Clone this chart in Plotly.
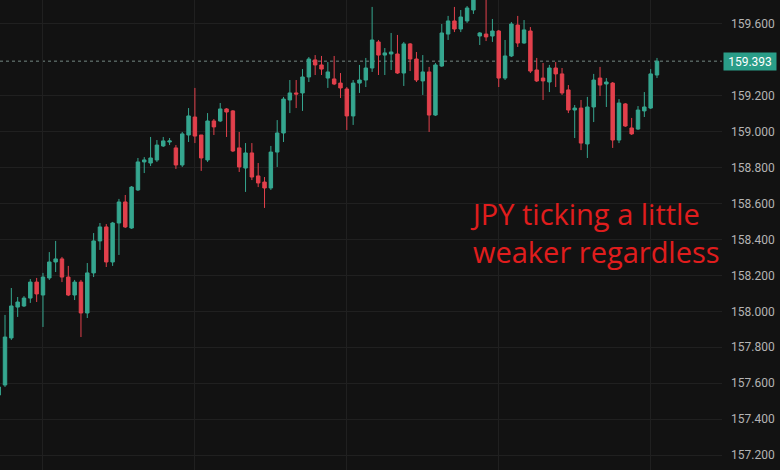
import plotly.graph_objects as go

# OHLC values (USD/JPY, intraday candles)
opens = [157.534, 157.590, 157.852, 158.024, 158.030, 158.074, 158.163, 158.091, 158.186, 158.275,
         158.292, 158.191, 158.091, 158.163, 157.991, 158.214, 158.392, 158.470, 158.275, 158.492,
         158.609, 158.464, 158.676, 158.832, 158.826, 158.843, 158.921, 158.943, 158.910, 158.815,
         158.982, 159.082, 158.982, 158.843, 159.060, 159.060, 159.127, 159.116, 158.910, 158.798,
         158.882, 158.754, 158.720, 158.687, 158.887, 158.993, 159.177, 159.216, 159.216, 159.305,
         159.400, 159.372, 159.299, 159.294, 159.271, 159.238, 159.088, 159.271, 159.288, 159.355,
         159.500, 159.427, 159.433, 159.433, 159.327, 159.489, 159.405, 159.283, 159.333, 159.093,
         159.366, 159.544, 159.617, 159.572, 159.617, 159.678, 159.533, 159.544, 159.533, 159.561,
         159.299, 159.422, 159.594, 159.494, 159.561, 159.344, 159.299, 159.277, 159.355, 159.322,
         159.233, 159.121, 159.132, 158.932, 159.138, 159.299, 159.266, 159.271, 158.954, 159.155,
         159.021, 159.015, 159.116, 159.132, 159.316]
highs = [157.601, 157.980, 158.130, 158.080, 158.085, 158.180, 158.186, 158.214, 158.330, 158.392,
         158.303, 158.253, 158.175, 158.175, 158.269, 158.436, 158.492, 158.486, 158.498, 158.626,
         158.648, 158.698, 158.854, 158.859, 158.971, 158.954, 158.971, 158.965, 158.926, 158.999,
         159.132, 159.244, 158.982, 159.104, 159.071, 159.160, 159.132, 159.121, 158.999, 158.937,
         158.937, 158.826, 158.748, 158.921, 159.065, 159.194, 159.288, 159.288, 159.349, 159.416,
         159.427, 159.422, 159.388, 159.422, 159.327, 159.249, 159.288, 159.372, 159.411, 159.695,
         159.511, 159.466, 159.550, 159.539, 159.500, 159.494, 159.444, 159.427, 159.361, 159.383,
         159.600, 159.645, 159.695, 159.678, 159.700, 159.760, 159.555, 159.750, 159.628, 159.567,
         159.511, 159.611, 159.645, 159.622, 159.583, 159.411, 159.383, 159.372, 159.388, 159.355,
         159.260, 159.149, 159.177, 159.194, 159.322, 159.361, 159.299, 159.277, 159.182, 159.160,
         159.077, 159.143, 159.221, 159.349, 159.411]
lows = [157.518, 157.579, 157.841, 157.969, 158.024, 158.047, 158.052, 157.913, 158.175, 158.219,
        158.163, 158.085, 158.063, 157.857, 157.963, 158.191, 158.342, 158.247, 158.253, 158.314,
        158.464, 158.459, 158.670, 158.770, 158.809, 158.832, 158.915, 158.926, 158.793, 158.804,
        158.943, 158.937, 158.782, 158.832, 158.982, 159.054, 158.971, 158.887, 158.776, 158.665,
        158.731, 158.692, 158.576, 158.676, 158.804, 158.943, 159.104, 159.132, 159.116, 159.277,
        159.316, 159.316, 159.244, 159.260, 159.188, 159.010, 159.038, 159.216, 159.249, 159.333,
        159.316, 159.316, 159.344, 159.322, 159.255, 159.338, 159.277, 159.205, 158.999, 159.088,
        159.361, 159.511, 159.555, 159.555, 159.606, 159.656, 159.483, 159.505, 159.500, 159.249,
        159.288, 159.416, 159.472, 159.490, 159.327, 159.277, 159.177, 159.221, 159.249, 159.205,
        159.104, 158.965, 158.898, 158.854, 159.054, 159.199, 159.138, 158.910, 158.937, 159.027,
        158.982, 159.010, 159.082, 159.127, 159.299]
closes = [157.579, 157.857, 158.030, 158.052, 158.074, 158.163, 158.097, 158.191, 158.275, 158.292,
          158.191, 158.091, 158.163, 157.991, 158.214, 158.392, 158.470, 158.275, 158.492, 158.609,
          158.470, 158.692, 158.832, 158.843, 158.854, 158.926, 158.949, 158.949, 158.815, 158.988,
          159.088, 158.976, 158.854, 159.060, 159.027, 159.127, 159.110, 158.893, 158.804, 158.882,
          158.748, 158.715, 158.687, 158.887, 158.993, 159.182, 159.216, 159.210, 159.305, 159.405,
          159.372, 159.349, 159.333, 159.266, 159.244, 159.088, 159.271, 159.288, 159.355, 159.511,
          159.427, 159.439, 159.444, 159.327, 159.489, 159.405, 159.288, 159.333, 159.093, 159.372,
          159.550, 159.617, 159.572, 159.639, 159.689, 159.745, 159.550, 159.528, 159.561, 159.299,
          159.422, 159.600, 159.494, 159.567, 159.338, 159.283, 159.283, 159.355, 159.322, 159.216,
          159.121, 159.132, 158.937, 159.138, 159.288, 159.260, 159.277, 158.954, 159.160, 159.032,
          158.988, 159.121, 159.138, 159.322, 159.393]

# 159.400 sits under the last-price tag in the reference, so it is not listed
tick_vals = [157.2, 157.4, 157.6, 157.8, 158.0, 158.2, 158.4, 158.6, 158.8, 159.0, 159.2, 159.6]
time_grid = [7, 31, 55, 79, 103]
note_text = "JPY ticking a little<br>weaker regardless"

UP = "#35a68f"
DOWN = "#e2404c"
BG = "#121212"
GRID = "#202020"

idx = list(range(len(opens)))
last = closes[-1]

fig = go.Figure(go.Candlestick(
    x=idx, open=opens, high=highs, low=lows, close=closes,
    increasing=dict(line=dict(color=UP, width=1), fillcolor=UP),
    decreasing=dict(line=dict(color=DOWN, width=1), fillcolor=DOWN),
    whiskerwidth=0, showlegend=False,
))

fig.add_shape(type="line", xref="paper", x0=0, x1=1, yref="y", y0=last, y1=last,
              line=dict(color="rgba(150,175,168,0.75)", width=1, dash="dot"), layer="below")

fig.add_annotation(xref="paper", x=1, xanchor="left", xshift=1, yref="y", y=last, yanchor="middle",
                   text=f"{last:.3f}", showarrow=False, bgcolor="#2a9d88", width=50, height=15,
                   borderpad=1, font=dict(family="Roboto", size=12, color="#ffffff"))

fig.add_annotation(xref="paper", x=468 / 722, xanchor="left", yref="paper", y=0.506, yanchor="middle",
                   text=note_text, showarrow=False, align="left",
                   font=dict(family="Open Sans", size=29, color="#e01d1d"))

fig.update_layout(
    width=780, height=470,
    margin=dict(l=0, r=58, t=0, b=0),
    paper_bgcolor=BG, plot_bgcolor=BG,
    boxgap=0.22,
    xaxis=dict(range=[0.21, 114.27], rangeslider=dict(visible=False), tickvals=time_grid,
               showticklabels=False, showgrid=True, gridcolor=GRID, gridwidth=1, zeroline=False,
               showline=False, fixedrange=True),
    yaxis=dict(side="right", range=[157.1167, 159.7336], tickvals=tick_vals, tickformat=".3f",
               showgrid=True, gridcolor=GRID, gridwidth=1, zeroline=False, showline=False,
               ticks="", ticklabelstandoff=8,
               tickfont=dict(family="Roboto", size=12, color="#b4b4b4")),
)

fig.write_html("out.html", config={"displayModeBar": False},
               post_script="document.body.style.margin='0';document.body.style.background='#121212';")
